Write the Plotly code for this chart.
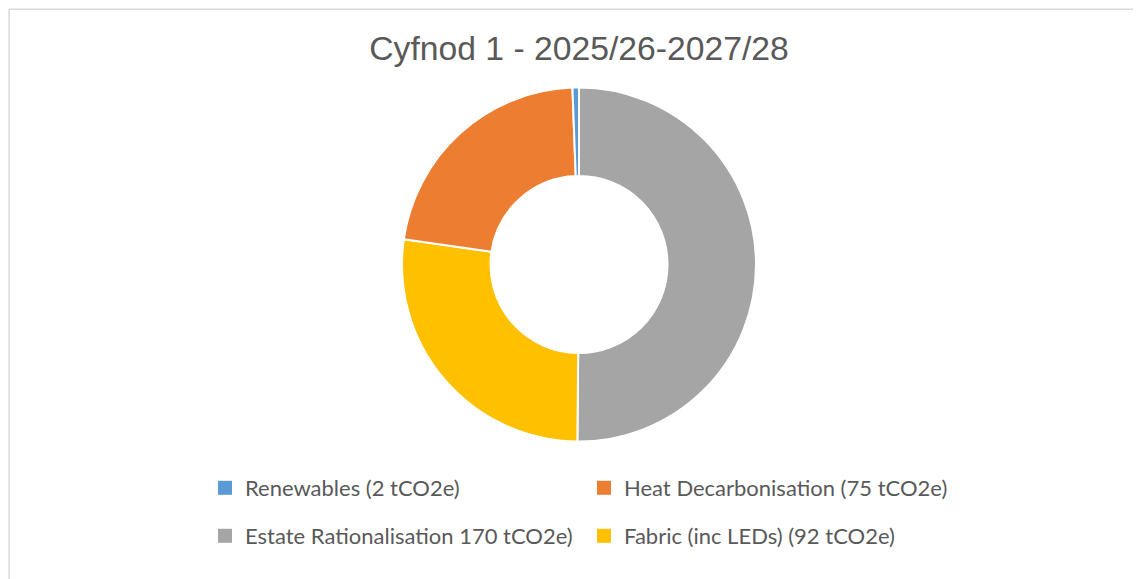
import plotly.graph_objects as go

# slices in drawing order (clockwise from 12 o'clock)
slice_labels = [
    "Estate Rationalisation 170 tCO2e)",
    "Fabric (inc LEDs) (92 tCO2e)",
    "Heat Decarbonisation (75 tCO2e)",
    "Renewables (2 tCO2e)",
]
slice_values = [170, 92, 75, 2]
slice_colors = ["#A5A5A5", "#FFC000", "#ED7D31", "#5B9BD5"]

# legend rows as shown under the chart
legend_row1 = ["Renewables (2 tCO2e)", "Heat Decarbonisation (75 tCO2e)"]
legend_row2 = ["Estate Rationalisation 170 tCO2e)", "Fabric (inc LEDs) (92 tCO2e)"]

W, H = 1141, 579
PAGE_OFF = 8  # browser body margin


def fx(px):
    return (px - PAGE_OFF) / W


def fy(px):
    return 1 - (px - PAGE_OFF) / H


colour_of = dict(zip(slice_labels, slice_colors))

fig = go.Figure()

fig.add_trace(go.Pie(
    labels=slice_labels,
    values=slice_values,
    marker=dict(colors=slice_colors, line=dict(color="white", width=2)),
    hole=0.5,
    sort=False,
    direction="clockwise",
    rotation=0,
    textinfo="none",
    hoverinfo="label+value+percent",
    showlegend=False,
    domain=dict(x=[fx(579 - 177), fx(579 + 177)],
                y=[fy(442), fy(87)]),
))

# legend entries (dummy traces so the legend can be laid out in two rows)
for leg, row in (("legend", legend_row1), ("legend2", legend_row2)):
    for name in row:
        fig.add_trace(go.Scatter(
            x=[None], y=[None], mode="markers", name=name,
            marker=dict(symbol="square", size=14, color=colour_of[name]),
            legend=leg, hoverinfo="skip",
        ))

legend_style = dict(
    orientation="h",
    xanchor="left",
    yanchor="middle",
    x=fx(205),
    entrywidth=334,
    entrywidthmode="pixels",
    font=dict(family="Lato", size=22, color="#595959"),
    bgcolor="rgba(0,0,0,0)",
    itemclick=False,
    itemdoubleclick=False,
)

fig.update_layout(
    width=W,
    height=H,
    margin=dict(l=0, r=0, t=0, b=0),
    paper_bgcolor="white",
    plot_bgcolor="white",
    title=dict(
        text="Cyfnod 1 - 2025/26-2027/28",
        x=fx(579), xanchor="center",
        y=fy(48), yanchor="middle", yref="paper",
        font=dict(family="Liberation Sans", size=33.7, color="#595959"),
    ),
    xaxis=dict(visible=False),
    yaxis=dict(visible=False),
    legend=dict(legend_style, y=fy(488)),
    legend2=dict(legend_style, y=fy(536)),
    # chart frame (top and left edges are the only ones in view)
    shapes=[dict(
        type="rect", xref="paper", yref="paper",
        x0=0.001, x1=1.05, y0=-0.05, y1=0.998,
        line=dict(color="#D9D9D9", width=1.5), fillcolor="rgba(0,0,0,0)",
        layer="below",
    )],
)

fig.write_html("out.html")
